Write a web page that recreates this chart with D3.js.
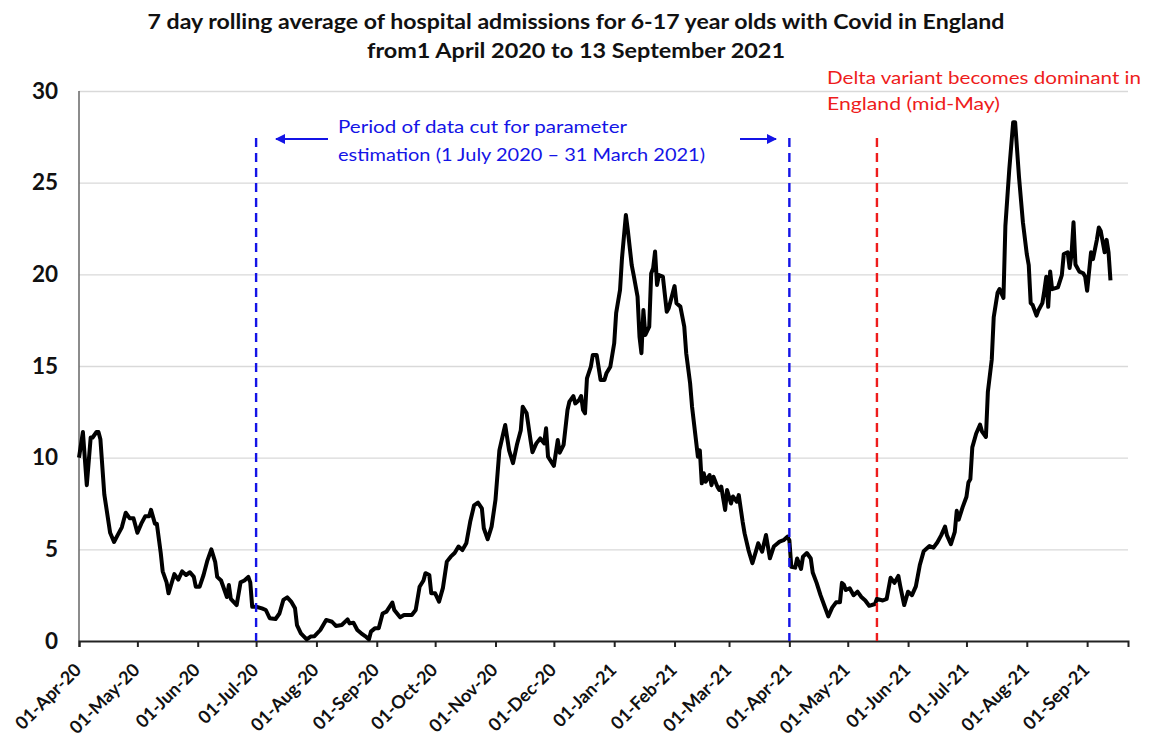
<!DOCTYPE html>
<html>
<head>
<meta charset="utf-8">
<script src="https://cdn.jsdelivr.net/npm/d3@7"></script>
<style>
  body { margin: 0; background: #fff; }
  text { font-family: Lato, "Open Sans", sans-serif; }
</style>
</head>
<body>
<div id="chart"></div>
<script>
// days counted from 1 April 2020
const startDate = new Date(Date.UTC(2020, 3, 1));
const dayOffsets = [
  0, 2, 4, 6, 7, 9, 10, 11, 13, 16, 18, 20, 22, 24, 26, 28, 30, 32, 34, 36, 37, 39, 40, 42, 43, 45, 46, 48, 49, 51,
  53, 55, 57, 59, 60, 62, 64, 66, 68, 70, 71, 73, 76, 77, 78, 81, 83, 85, 87, 88, 89, 91, 94, 96, 98, 101, 103, 105, 107, 109,
  111, 112, 114, 117, 119, 121, 124, 127, 130, 132, 135, 138, 139, 141, 143, 145, 147, 149, 150, 152, 154, 156, 158, 161, 162, 165, 167, 171, 173, 175,
  177, 178, 180, 181, 183, 185, 187, 189, 191, 193, 195, 197, 199, 201, 203, 205, 207, 208, 210, 212, 214, 216, 218, 219, 221, 223, 225, 227, 228, 230,
  232, 233, 235, 237, 239, 240, 241, 244, 246, 247, 249, 251, 252, 254, 255, 257, 258, 259, 260, 261, 263, 264, 266, 268, 270, 271, 273, 275, 276, 278,
  279, 281, 282, 284, 285, 287, 288, 289, 290, 291, 293, 294, 295, 296, 297, 298, 300, 302, 303, 305, 306, 307, 309, 311, 312, 314, 315, 317, 318, 319,
  320, 321, 322, 324, 325, 326, 328, 329, 330, 332, 333, 335, 336, 338, 339, 341, 342, 344, 346, 348, 349, 351, 353, 355, 357, 359, 360, 362, 364, 365,
  366, 368, 369, 371, 372, 374, 376, 377, 379, 381, 383, 385, 387, 389, 391, 392, 393, 394, 396, 398, 400, 402, 404, 406, 409, 410, 413, 415, 417, 419,
  421, 422, 424, 426, 428, 430, 432, 434, 437, 439, 441, 443, 445, 446, 448, 450, 451, 452, 454, 456, 457, 458, 459, 461, 463, 464, 466, 467, 469, 470,
  472, 473, 475, 476, 478, 480, 481, 483, 485, 487, 488, 489, 490, 492, 493, 495, 496, 497, 498, 499, 500, 503, 505, 506, 508, 509, 510, 511, 512, 514,
  516, 517, 518, 520, 521, 523, 524, 525, 527, 528, 529, 530
];
const admissions = [
  10.0, 11.4, 8.5, 11.1, 11.1, 11.4, 11.4, 11.0, 8.0, 5.9, 5.4, 5.8, 6.2, 7.0, 6.7, 6.7, 5.9, 6.4, 6.8, 6.8, 7.15, 6.4, 6.4, 4.8, 3.8, 3.2, 2.6, 3.3, 3.65, 3.35,
  3.8, 3.6, 3.75, 3.5, 2.96, 2.96, 3.6, 4.4, 5.0, 4.3, 3.5, 3.3, 2.4, 3.05, 2.3, 1.96, 3.2, 3.3, 3.5, 3.2, 1.87, 1.87, 1.78, 1.69, 1.24, 1.2, 1.5, 2.24, 2.38, 2.15,
  1.78, 0.87, 0.42, 0.09, 0.24, 0.26, 0.6, 1.15, 1.05, 0.82, 0.87, 1.18, 0.96, 1.0, 0.6, 0.42, 0.27, 0.09, 0.51, 0.69, 0.69, 1.5, 1.6, 2.1, 1.69, 1.29, 1.42, 1.42, 1.69, 2.96,
  3.3, 3.7, 3.6, 2.6, 2.6, 2.15, 2.9, 4.33, 4.6, 4.8, 5.15, 4.96, 5.33, 6.5, 7.4, 7.55, 7.24, 6.15, 5.55, 6.24, 7.7, 10.4, 11.33, 11.78, 10.4, 9.7, 10.7, 11.5, 12.78, 12.42,
  10.96, 10.3, 10.78, 11.05, 10.78, 11.6, 10.05, 9.55, 10.96, 10.27, 10.7, 12.6, 13.06, 13.36, 12.96, 13.15, 13.36, 12.6, 12.42, 14.33, 14.96, 15.6, 15.6, 14.24, 14.24, 14.6, 14.96, 16.24, 17.88, 19.15,
  20.88, 23.24, 22.4, 20.5, 19.96, 18.78, 16.6, 15.7, 18.05, 16.69, 17.15, 20.05, 20.33, 21.24, 19.42, 19.96, 19.88, 17.96, 18.15, 18.96, 19.36, 18.42, 18.24, 17.15, 15.7, 14.06, 12.78, 10.96, 10.05, 10.4,
  8.6, 9.15, 8.69, 9.05, 8.5, 8.96, 8.42, 8.24, 8.42, 7.15, 8.24, 7.5, 7.88, 7.6, 7.96, 6.5, 5.87, 4.96, 4.24, 4.96, 5.33, 4.87, 5.78, 4.51, 5.15, 5.33, 5.42, 5.5, 5.69, 5.5,
  4.05, 4.0, 4.5, 3.93, 4.6, 4.8, 4.5, 3.74, 3.17, 2.5, 1.92, 1.34, 1.82, 2.11, 2.11, 3.17, 3.07, 2.78, 2.88, 2.5, 2.69, 2.4, 2.21, 1.92, 2.02, 2.3, 2.21, 2.3, 3.45, 3.17,
  3.55, 2.98, 1.96, 2.69, 2.5, 2.98, 4.13, 4.89, 5.18, 5.09, 5.37, 5.76, 6.24, 5.76, 5.28, 5.95, 7.1, 6.62, 7.29, 7.87, 8.64, 8.83, 10.56, 11.32, 11.8, 11.42, 11.13, 13.6, 15.36, 17.66,
  19.0, 19.2, 18.71, 22.65, 25.72, 28.3, 28.3, 25.3, 22.84, 21.1, 20.5, 18.43, 18.33, 17.75, 18.04, 18.43, 19.1, 19.87, 18.23, 20.15, 19.19, 19.29, 19.96, 21.11, 21.2, 20.35, 21.11, 22.84, 20.54, 20.15,
  20.06, 19.87, 19.1, 21.2, 20.83, 21.88, 22.55, 22.36, 21.2, 21.88, 21.2, 19.67
];
const yTicks = [0, 5, 10, 15, 20, 25, 30];
const xTickLabels = [
  "01-Apr-20", "01-May-20", "01-Jun-20", "01-Jul-20", "01-Aug-20", "01-Sep-20", "01-Oct-20", "01-Nov-20", "01-Dec-20",
  "01-Jan-21", "01-Feb-21", "01-Mar-21", "01-Apr-21", "01-May-21", "01-Jun-21", "01-Jul-21", "01-Aug-21", "01-Sep-21"
];
const cutDates = ["2020-07-01", "2021-04-01"];
const deltaDate = "2021-05-16";
const titleLines = [
  "7 day rolling average of hospital admissions for 6-17 year olds with Covid in England",
  "from1 April 2020 to 13 September 2021"
];
const cutNote = ["Period of data cut for parameter", "estimation (1 July 2020 \u2013 31 March 2021)"];
const deltaNote = ["Delta variant becomes dominant in", "England (mid-May)"];

const W = 1149, H = 742;
const plot = { left: 79, right: 1128, top: 91, bottom: 641 };

const parseTick = d3.utcParse("%d-%b-%y");
const parseIso = d3.utcParse("%Y-%m-%d");
const data = dayOffsets.map((d, i) => ({ date: d3.utcDay.offset(startDate, d), value: admissions[i] }));

const svg = d3.select("#chart").append("svg")
  .attr("width", W).attr("height", H);

const x = d3.scaleUtc()
  .domain([startDate, new Date(Date.UTC(2021, 8, 22))])
  .range([plot.left, plot.right]);
const y = d3.scaleLinear().domain([0, 30]).range([plot.bottom, plot.top]);

// gridlines
svg.append("g")
  .attr("transform", `translate(${plot.left},0)`)
  .call(d3.axisLeft(y).tickValues(yTicks.filter(t => t > 0)).tickSize(-(plot.right - plot.left)).tickFormat(""))
  .call(g => g.select(".domain").remove())
  .call(g => g.selectAll("line").attr("stroke", "#d9d9d9").attr("stroke-width", 1.3));

// y labels
svg.append("g")
  .attr("transform", `translate(${plot.left},0)`)
  .call(d3.axisLeft(y).tickValues(yTicks).tickSize(0).tickPadding(21))
  .call(g => g.select(".domain").remove())
  .call(g => g.selectAll("text")
    .attr("font-family", "Lato, sans-serif")
    .attr("font-size", 22.5).attr("font-weight", 700).attr("fill", "#111"));

svg.append("line")
  .attr("x1", plot.left).attr("x2", plot.left).attr("y1", plot.top).attr("y2", plot.bottom)
  .attr("stroke", "#666").attr("stroke-width", 1.5);

// x axis
const xAxis = svg.append("g")
  .attr("transform", `translate(0,${plot.bottom})`)
  .call(d3.axisBottom(x).tickValues(xTickLabels.map(parseTick)).tickSize(6).tickFormat(d3.utcFormat("%d-%b-%y")));
xAxis.select(".domain").attr("stroke", "#222").attr("stroke-width", 2);
xAxis.selectAll(".tick line").attr("stroke", "#222").attr("stroke-width", 2);
xAxis.selectAll(".tick text")
  .attr("font-family", "Lato, sans-serif")
  .attr("font-size", 18).attr("font-weight", 700).attr("fill", "#111")
  .attr("text-anchor", "end")
  .attr("x", 0).attr("y", 0).attr("dy", 0)
  .attr("transform", "translate(3,30) rotate(-45)");

// the series
svg.append("path")
  .datum(data)
  .attr("fill", "none")
  .attr("stroke", "#000")
  .attr("stroke-width", 4)
  .attr("stroke-linejoin", "round")
  .attr("d", d3.line().x(d => x(d.date)).y(d => y(d.value)));

// dashed markers
const blue = "#1414e6", red = "#ee1c1c";
cutDates.forEach(d => {
  svg.append("line")
    .attr("x1", x(parseIso(d))).attr("x2", x(parseIso(d)))
    .attr("y1", 138).attr("y2", plot.bottom)
    .attr("stroke", blue).attr("stroke-width", 2.4).attr("stroke-dasharray", "9,6");
});
svg.append("line")
  .attr("x1", x(parseIso(deltaDate))).attr("x2", x(parseIso(deltaDate)))
  .attr("y1", 138).attr("y2", plot.bottom)
  .attr("stroke", red).attr("stroke-width", 2.4).attr("stroke-dasharray", "9,6");

// arrows
svg.append("defs").append("marker")
  .attr("id", "arrow").attr("viewBox", "0 0 10 10")
  .attr("refX", 9).attr("refY", 5)
  .attr("markerWidth", 5).attr("markerHeight", 5).attr("orient", "auto")
  .append("path").attr("d", "M0,0L10,5L0,10z").attr("fill", blue);

svg.append("line")
  .attr("x1", 328).attr("x2", 276).attr("y1", 139).attr("y2", 139)
  .attr("stroke", blue).attr("stroke-width", 2).attr("marker-end", "url(#arrow)");
svg.append("line")
  .attr("x1", 740).attr("x2", 776).attr("y1", 139).attr("y2", 139)
  .attr("stroke", blue).attr("stroke-width", 2).attr("marker-end", "url(#arrow)");

// annotation text
svg.selectAll(".cut-note")
  .data(cutNote)
  .join("text")
  .attr("class", "cut-note")
  .attr("x", 338).attr("y", (d, i) => 133 + i * 28)
  .attr("font-size", 18).attr("fill", blue)
  .attr("textLength", (d, i) => [289, 367][i]).attr("lengthAdjust", "spacingAndGlyphs")
  .text(d => d);

svg.selectAll(".delta-note")
  .data(deltaNote)
  .join("text")
  .attr("class", "delta-note")
  .attr("x", 827).attr("y", (d, i) => 84 + i * 26)
  .attr("font-size", 18).attr("fill", red)
  .attr("textLength", (d, i) => [314, 173][i]).attr("lengthAdjust", "spacingAndGlyphs")
  .text(d => d);

// title
svg.selectAll(".title")
  .data(titleLines)
  .join("text")
  .attr("class", "title")
  .attr("x", 576).attr("y", (d, i) => 29 + i * 29)
  .attr("text-anchor", "middle")
  .attr("font-size", 21).attr("font-weight", 700).attr("fill", "#111")
  .attr("textLength", (d, i) => [857, 418][i]).attr("lengthAdjust", "spacingAndGlyphs")
  .text(d => d);
</script>
</body>
</html>
